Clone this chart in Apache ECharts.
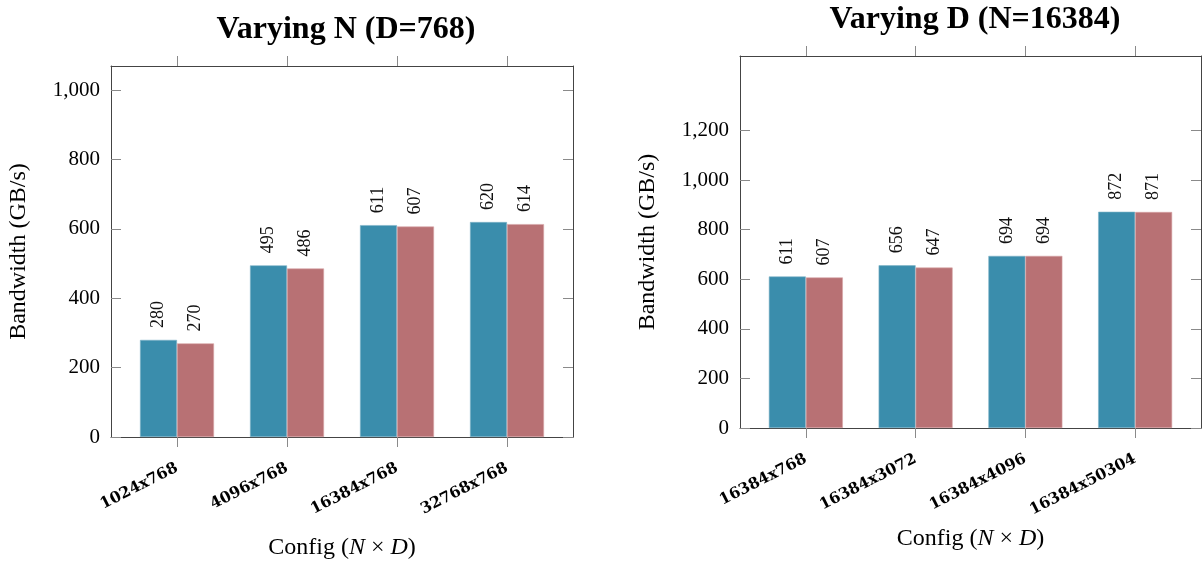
<!DOCTYPE html>
<html><head><meta charset="utf-8">
<script src="https://cdn.jsdelivr.net/npm/echarts@6/dist/echarts.min.js"></script>
<style>html,body{margin:0;padding:0;background:#fff}#c{width:1203px;height:565px}</style>
</head><body><div id="c"></div>
<script>
// ---- data ----
const catsN = ['1024x768', '4096x768', '16384x768', '32768x768'];
const blueN = [280, 495, 611, 620];
const redN  = [270, 486, 607, 614];
const catsD = ['16384x768', '16384x3072', '16384x4096', '16384x50304'];
const blueD = [611, 656, 694, 872];
const redD  = [607, 647, 694, 871];
const yTicksN = [0, 200, 400, 600, 800, 1000];
const yTicksD = [0, 200, 400, 600, 800, 1000, 1200];
const catTicks = [0, 1, 2, 3];
const titles = ['Varying N (D=768)', 'Varying D (N=16384)'];

const SERIF = '"Liberation Serif", "DejaVu Serif", serif';
const BLUE = '#3a8dac', RED = '#b87174';
const BLUE_EDGE = '#7fb3c7', RED_EDGE = '#d6a4a6';
const FRAME = '#444', TICK = '#8a8a8a';

const chart = echarts.init(document.getElementById('c'), null, {renderer: 'canvas'});

const panels = [
  {cats: catsN, blue: blueN, red: redN, ymax: 1070, yTicks: yTicksN,
   grid: {left: 111, right: 630, top: 66, bottom: 128}, titleX: 341, titleTop: 9},
  {cats: catsD, blue: blueD, red: redD, ymax: 1500, yTicks: yTicksD,
   grid: {left: 740, right: 2, top: 56, bottom: 137}, titleX: 970, titleTop: -1}
];

const option = {
  backgroundColor: '#fff',
  animation: false,
  title: [], grid: [], xAxis: [], yAxis: [], series: []
};

panels.forEach((p, g) => {
  option.title.push({
    text: titles[g], left: p.titleX, top: p.titleTop, textAlign: 'center',
    textStyle: {fontFamily: SERIF, fontWeight: 'bold', fontSize: 32, color: '#000'}
  });
  option.grid.push(Object.assign({containLabel: false}, p.grid));
  const xBase = {
    type: 'value', gridIndex: g, min: -0.6, max: 3.6,
    splitLine: {show: false},
    axisLine: {show: true, onZero: false, lineStyle: {color: FRAME, width: 1}},
    axisTick: {show: true, inside: false, length: 10, customValues: catTicks, lineStyle: {color: TICK}},
  };
  option.xAxis.push(Object.assign({}, xBase, {
    position: 'bottom',
    axisLabel: {show: true, customValues: catTicks, rotate: 27, margin: 30,
      formatter: v => p.cats[Math.round(v)],
      fontFamily: '"DejaVu Serif", serif', fontWeight: 'bold', fontSize: 15.5, color: '#000'},
    name: 'Config ({i|N} × {i|D})', nameLocation: 'middle', nameGap: 99,
    nameTextStyle: {fontFamily: SERIF, fontSize: 24, color: '#000',
      rich: {i: {fontFamily: SERIF, fontStyle: 'italic', fontSize: 24, color: '#000'}}}
  }));
  option.xAxis.push(Object.assign({}, xBase, {
    position: 'top', axisLabel: {show: false, customValues: catTicks}
  }));
  const yBase = {
    type: 'value', gridIndex: g, min: 0, max: p.ymax,
    splitLine: {show: false},
    axisLine: {show: true, onZero: false, lineStyle: {color: FRAME, width: 1}},
    axisTick: {show: true, inside: true, length: 10, customValues: p.yTicks, lineStyle: {color: TICK}},
  };
  option.yAxis.push(Object.assign({}, yBase, {
    position: 'left',
    axisLabel: {show: true, customValues: p.yTicks, margin: 11,
      formatter: v => Number(v).toLocaleString('en-US'),
      fontFamily: SERIF, fontSize: 21, color: '#000'},
    name: 'Bandwidth (GB/s)', nameLocation: 'middle', nameGap: 80,
    nameTextStyle: {fontFamily: SERIF, fontSize: 24, color: '#000'}
  }));
  option.yAxis.push(Object.assign({}, yBase, {
    position: 'right', axisLabel: {show: false, customValues: p.yTicks}
  }));
  const lbl = {show: true, position: 'top', rotate: 90, align: 'left', verticalAlign: 'middle',
    distance: 12, fontFamily: SERIF, fontSize: 18, color: '#111'};
  option.series.push({
    type: 'bar', name: 'A' + g, xAxisIndex: 2 * g, yAxisIndex: 2 * g,
    data: p.blue.map((v, i) => [i, v]), barWidth: 37, barGap: '0%',
    itemStyle: {color: BLUE, borderColor: BLUE_EDGE, borderWidth: 0.6}, label: lbl
  });
  option.series.push({
    type: 'bar', name: 'B' + g, xAxisIndex: 2 * g, yAxisIndex: 2 * g,
    data: p.red.map((v, i) => [i, v]), barWidth: 37, barGap: '0%',
    itemStyle: {color: RED, borderColor: RED_EDGE, borderWidth: 0.6}, label: lbl
  });
});

chart.setOption(option);
</script>
</body></html>
